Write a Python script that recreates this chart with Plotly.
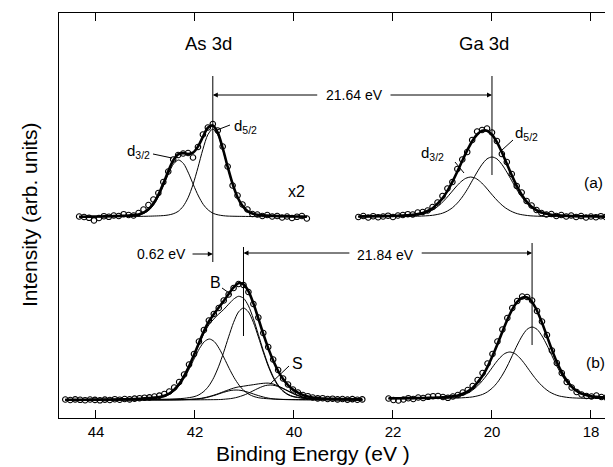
import plotly.graph_objects as go

# ---------------- Panel (a): As 3d (x2) ----------------
as_a_E = [44.34, 44.24, 44.14, 44.04, 43.94, 43.84, 43.74, 43.64, 43.54, 43.44, 43.34, 43.24,
          43.14, 43.04, 42.94, 42.84, 42.74, 42.64, 42.54, 42.44, 42.34, 42.24, 42.14, 42.04,
          41.94, 41.84, 41.74, 41.64, 41.54, 41.44, 41.34, 41.24, 41.14, 41.04, 40.94, 40.84,
          40.74, 40.64, 40.54, 40.44, 40.34, 40.24, 40.14, 40.04, 39.94, 39.84, 39.74]
as_a_data = [201.5, 201.0, 200.2, 197.5, 200.0, 201.8, 201.2, 202.5, 202.0, 203.8, 203.0, 202.5,
             205.0, 208.5, 213.0, 218.5, 225.0, 236.0, 246.5, 258.5, 263.0, 264.5, 265.0, 260.5,
             271.0, 283.5, 290.5, 294.0, 287.5, 271.5, 251.5, 232.5, 222.5, 213.5, 208.5, 204.0,
             203.5, 202.0, 203.0, 201.5, 202.0, 200.5, 201.5, 200.0, 201.2, 202.0, 199.5]
as_a_fit = [201.3, 201.3, 201.4, 201.4, 201.5, 201.6, 201.7, 201.9, 202.0, 202.2, 202.4, 202.9,
            203.6, 205.3, 208.7, 214.4, 223.1, 234.4, 246.8, 257.5, 263.6, 264.9, 264.0, 265.4,
            271.4, 281.1, 290.2, 292.6, 285.4, 270.0, 251.3, 234.1, 220.8, 212.1, 207.0, 204.5,
            203.3, 202.7, 202.4, 202.2, 202.0, 201.8, 201.7, 201.6, 201.5, 201.4, 201.3]
as_a_d52_E = [44.34, 43.44, 42.94, 42.64, 42.54, 42.44, 42.34, 42.24, 42.14, 42.04, 41.94, 41.84,
              41.74, 41.64, 41.54, 41.44, 41.34, 41.24, 41.14, 41.04, 40.94, 40.84, 40.74, 40.64,
              40.34, 39.84, 39.74]
as_a_d52 = [201.2, 201.4, 201.8, 202.4, 203.0, 204.2, 206.6, 211.6, 220.2, 233.4, 250.4, 268.7,
            283.3, 289.0, 283.3, 268.7, 250.4, 233.4, 220.2, 211.6, 206.6, 204.2, 203.0, 202.4,
            201.8, 201.4, 201.3]
as_a_d32_E = [44.34, 44.13, 43.63, 43.33, 43.23, 43.13, 43.03, 42.93, 42.83, 42.73, 42.63, 42.53,
              42.43, 42.33, 42.23, 42.13, 42.03, 41.93, 41.83, 41.73, 41.63, 41.53, 41.43, 41.33,
              41.03, 40.53, 39.74]
as_a_d32 = [201.3, 201.3, 201.6, 201.9, 202.3, 203.1, 204.6, 207.9, 213.4, 222.0, 233.0, 244.8,
            254.3, 258.0, 254.3, 244.8, 233.0, 222.0, 213.4, 207.9, 204.6, 203.1, 202.3, 201.9,
            201.6, 201.3, 201.2]

# ---------------- Panel (a): Ga 3d ----------------
ga_a_E = [22.7, 22.6, 22.5, 22.4, 22.3, 22.2, 22.1, 22.0, 21.9, 21.8, 21.7, 21.6, 21.5, 21.4,
          21.3, 21.2, 21.1, 21.0, 20.9, 20.8, 20.7, 20.6, 20.5, 20.4, 20.3, 20.2, 20.1, 20.0,
          19.9, 19.8, 19.7, 19.6, 19.5, 19.4, 19.3, 19.2, 19.1, 19.0, 18.9, 18.8, 18.7, 18.6,
          18.5, 18.4, 18.3, 18.2, 18.1, 18.0, 17.9, 17.8, 17.7]
ga_a_data = [201.0, 202.0, 200.5, 201.8, 200.8, 201.5, 202.3, 201.0, 202.5, 203.0, 203.8, 203.5,
             205.5, 206.0, 207.5, 211.0, 215.5, 222.0, 229.5, 236.0, 249.0, 258.5, 266.0, 278.0,
             286.5, 288.0, 289.5, 285.5, 277.0, 264.0, 256.0, 244.0, 232.0, 225.5, 217.0, 212.5,
             208.0, 205.0, 203.5, 204.0, 202.0, 203.0, 201.5, 202.5, 201.0, 202.0, 200.5, 201.5,
             200.8, 201.8, 201.0]
ga_a_fit = [201.5, 201.6, 201.6, 201.7, 201.8, 201.9, 202.0, 202.1, 202.3, 202.5, 202.8, 203.1,
            203.9, 205.1, 207.0, 209.8, 214.3, 219.6, 227.1, 236.1, 246.4, 257.2, 267.6, 276.8,
            283.5, 287.2, 287.3, 283.4, 275.9, 265.7, 254.2, 242.7, 232.1, 223.4, 216.5, 211.3,
            207.9, 205.5, 204.4, 203.2, 202.8, 202.5, 202.2, 202.0, 201.9, 201.8, 201.8, 201.7,
            201.6, 201.5, 201.4]
ga_a_d52_E = [22.7, 22.0, 21.5, 21.2, 21.0, 20.9, 20.8, 20.7, 20.6, 20.5, 20.4, 20.3, 20.2, 20.1,
              20.0, 19.9, 19.8, 19.7, 19.6, 19.5, 19.4, 19.3, 19.2, 19.1, 19.0, 18.8, 18.5, 18.0, 17.7]
ga_a_d52 = [201.3, 201.5, 201.8, 202.7, 204.8, 207.0, 210.2, 214.9, 221.0, 228.5, 237.2, 245.9,
            253.6, 259.1, 261.0, 259.1, 253.6, 245.9, 237.2, 228.5, 221.0, 214.9, 210.2, 207.0,
            204.8, 202.7, 201.8, 201.5, 201.3]
ga_a_d32_E = [22.7, 22.43, 21.93, 21.63, 21.43, 21.33, 21.23, 21.13, 21.03, 20.93, 20.83, 20.73,
              20.63, 20.53, 20.43, 20.33, 20.23, 20.13, 20.03, 19.93, 19.83, 19.73, 19.63, 19.53,
              19.43, 19.23, 18.93, 18.43, 17.7]
ga_a_d32 = [201.2, 201.3, 201.6, 202.2, 203.6, 205.0, 207.2, 210.2, 214.3, 219.4, 225.1, 231.0,
            236.1, 239.7, 241.0, 239.7, 236.1, 231.0, 225.1, 219.4, 214.3, 210.2, 207.2, 205.0,
            203.6, 202.2, 201.6, 201.3, 201.2]

# ---------------- Panel (b): As 3d ----------------
as_b_E = [44.62, 44.52, 44.42, 44.32, 44.22, 44.12, 44.02, 43.92, 43.82, 43.72, 43.62, 43.52,
          43.42, 43.32, 43.22, 43.12, 43.02, 42.92, 42.82, 42.72, 42.62, 42.52, 42.42, 42.32,
          42.22, 42.12, 42.02, 41.92, 41.82, 41.72, 41.62, 41.52, 41.42, 41.32, 41.22, 41.12,
          41.02, 40.92, 40.82, 40.72, 40.62, 40.52, 40.42, 40.32, 40.22, 40.12, 40.02, 39.92,
          39.82, 39.72, 39.62, 39.52, 39.42, 39.32, 39.22, 39.12, 39.02, 38.92, 38.82, 38.72, 38.62]
as_b_data = [18.5, 18.0, 18.6, 18.2, 17.8, 18.5, 18.1, 17.7, 18.4, 18.0, 18.8, 18.3,
             19.0, 18.6, 19.4, 19.8, 20.3, 20.6, 21.5, 22.4, 24.0, 26.5, 30.5, 36.0,
             43.5, 53.5, 64.0, 76.5, 88.0, 97.5, 104.0, 110.0, 117.5, 123.5, 130.0, 134.0,
             133.0, 126.0, 114.0, 100.5, 85.0, 71.0, 58.5, 48.0, 39.5, 33.5, 28.5, 25.5,
             23.0, 21.8, 20.5, 19.6, 19.8, 19.0, 19.3, 18.6, 19.0, 18.4, 18.9, 18.3, 18.6]
as_b_fit = [18.3, 18.3, 18.3, 18.3, 18.3, 18.35, 18.4, 18.4, 18.45, 18.5, 18.55, 18.6,
            18.7, 18.8, 19.0, 19.3, 19.7, 20.0, 20.4, 21.0, 22.3, 24.5, 28.4, 34.0,
            41.8, 51.6, 63.1, 75.1, 86.6, 96.5, 103.8, 110.5, 116.9, 124.0, 130.6, 134.8,
            133.6, 126.8, 114.6, 99.6, 84.1, 69.9, 57.4, 47.0, 38.9, 32.9, 28.4, 25.3,
            23.0, 21.5, 20.5, 20.0, 19.5, 19.3, 19.1, 19.0, 18.9, 18.8, 18.7, 18.6, 18.6]
as_b_bsum_E = [44.62, 43.02, 42.72, 42.52, 42.42, 42.32, 42.22, 42.12, 42.02, 41.92, 41.82, 41.72,
               41.62, 41.52, 41.42, 41.32, 41.22, 41.12, 41.02, 40.92, 40.82, 40.72, 40.62, 40.52,
               40.42, 40.32, 40.22, 40.12, 40.02, 39.92, 39.82, 39.72, 39.62, 39.42, 39.02, 38.62]
as_b_bsum = [18.3, 19.6, 20.8, 24.3, 28.1, 33.7, 41.4, 51.0, 62.2, 73.7, 84.4, 93.1,
             99.0, 104.0, 108.5, 113.8, 118.8, 121.7, 119.8, 112.2, 99.3, 83.5, 67.4, 53.0,
             41.4, 33.0, 27.2, 23.7, 21.7, 20.8, 20.0, 19.7, 19.3, 19.0, 18.7, 18.5]
as_b_b52_E = [44.62, 43.02, 42.52, 42.22, 42.02, 41.92, 41.82, 41.72, 41.62, 41.52, 41.42, 41.32,
              41.22, 41.12, 41.02, 40.92, 40.82, 40.72, 40.62, 40.52, 40.42, 40.32, 40.22, 40.12,
              40.02, 39.82, 39.52, 39.02, 38.62]
as_b_b52 = [18.3, 18.6, 18.9, 19.7, 21.3, 23.2, 26.6, 32.1, 40.4, 51.8, 65.8, 81.2,
            95.6, 106.1, 110.0, 106.1, 95.6, 81.2, 65.8, 51.8, 40.4, 32.1, 26.6, 23.2,
            21.3, 19.7, 18.9, 18.6, 18.4]
as_b_b32_E = [44.62, 43.71, 43.21, 42.91, 42.71, 42.61, 42.51, 42.41, 42.31, 42.21, 42.11, 42.01,
              41.91, 41.81, 41.71, 41.61, 41.51, 41.41, 41.31, 41.21, 41.11, 41.01, 40.91, 40.81,
              40.71, 40.51, 40.21, 39.71, 38.62]
as_b_b32 = [18.2, 18.4, 18.6, 19.2, 20.2, 21.5, 23.7, 27.3, 32.9, 40.4, 49.7, 59.9,
            69.4, 76.4, 79.0, 76.4, 69.4, 59.9, 49.7, 40.4, 32.9, 27.3, 23.7, 21.5,
            20.2, 19.2, 18.6, 18.4, 18.2]
as_b_s32_E = [44.62, 42.67, 42.37, 42.17, 42.07, 41.97, 41.87, 41.77, 41.67, 41.57, 41.47, 41.37,
              41.27, 41.17, 41.07, 40.97, 40.87, 40.77, 40.67, 40.57, 40.47, 40.37, 40.27, 40.17,
              39.97, 39.67, 38.62]
as_b_s32 = [18.0, 18.1, 18.2, 18.4, 18.6, 18.9, 19.5, 20.4, 21.7, 23.2, 24.9, 26.4,
            27.6, 28.0, 27.6, 26.4, 24.9, 23.2, 21.7, 20.4, 19.5, 18.9, 18.6, 18.4,
            18.2, 18.1, 18.0]
as_b_s52_E = [44.62, 41.98, 41.68, 41.48, 41.38, 41.28, 41.18, 41.08, 40.98, 40.88, 40.78, 40.68,
              40.58, 40.48, 40.38, 40.28, 40.18, 40.08, 39.98, 39.88, 39.78, 39.68, 39.58, 39.48,
              39.28, 38.98, 38.62]
as_b_s52 = [18.0, 18.2, 18.3, 18.5, 18.9, 19.4, 20.3, 21.7, 23.5, 25.8, 28.3, 30.6,
            32.4, 33.0, 32.4, 30.6, 28.3, 25.8, 23.5, 21.7, 20.3, 19.4, 18.9, 18.5,
            18.3, 18.2, 18.0]
as_b_ssum_E = [44.62, 42.52, 42.32, 42.12, 42.02, 41.92, 41.82, 41.72, 41.62, 41.52, 41.42, 41.32,
               41.22, 41.12, 41.02, 40.92, 40.82, 40.72, 40.62, 40.52, 40.42, 40.32, 40.22, 40.12,
               40.02, 39.92, 39.82, 39.72, 39.62, 39.42, 39.02, 38.62]
as_b_ssum = [18.0, 18.2, 18.3, 18.6, 18.9, 19.4, 20.2, 21.4, 22.8, 24.5, 26.4, 28.2,
             29.9, 31.1, 31.8, 32.6, 33.3, 34.1, 34.7, 34.9, 34.0, 32.1, 29.7, 27.2,
             24.7, 22.6, 21.0, 19.9, 19.2, 18.6, 18.2, 18.0]

# ---------------- Panel (b): Ga 3d ----------------
ga_b_E = [22.09, 21.99, 21.89, 21.79, 21.69, 21.59, 21.49, 21.39, 21.29, 21.19, 21.09, 20.99,
          20.89, 20.79, 20.69, 20.59, 20.49, 20.39, 20.29, 20.19, 20.09, 19.99, 19.89, 19.79,
          19.69, 19.59, 19.49, 19.39, 19.29, 19.19, 19.09, 18.99, 18.89, 18.79, 18.69, 18.59,
          18.49, 18.39, 18.29, 18.19, 18.09, 17.99, 17.89, 17.79, 17.69, 17.59]
ga_b_data = [19.5, 18.0, 17.5, 18.5, 19.8, 19.0, 20.5, 20.0, 21.2, 21.8, 22.0, 21.0,
             20.2, 21.5, 23.0, 25.5, 28.0, 32.0, 38.0, 45.0, 54.5, 64.0, 76.5, 88.5,
             100.0, 110.0, 117.0, 121.5, 121.0, 117.5, 107.0, 96.5, 83.0, 67.5, 55.0, 45.0,
             36.0, 30.5, 26.0, 23.5, 22.0, 21.5, 22.5, 21.0, 20.5, 19.5]
ga_b_fit = [19.7, 19.7, 19.8, 19.8, 19.9, 19.9, 20.0, 20.05, 20.1, 20.2, 20.45, 20.7,
            21.1, 21.7, 22.6, 24.2, 26.7, 30.1, 35.6, 42.2, 51.2, 61.9, 73.7, 86.2,
            98.2, 108.6, 116.1, 120.2, 120.5, 116.0, 107.3, 95.4, 81.9, 68.4, 55.9, 45.6,
            37.4, 31.4, 27.2, 24.4, 22.9, 21.6, 21.1, 20.7, 20.3, 20.0]
ga_b_d52_E = [22.09, 21.19, 20.69, 20.39, 20.19, 20.09, 19.99, 19.89, 19.79, 19.69, 19.59, 19.49,
              19.39, 19.29, 19.19, 19.09, 18.99, 18.89, 18.79, 18.69, 18.59, 18.49, 18.39, 18.29,
              18.19, 17.99, 17.69, 17.56]
ga_b_d52 = [19.3, 19.6, 20.0, 21.1, 23.6, 26.2, 30.1, 35.6, 43.0, 52.0, 62.4, 72.9,
            82.1, 88.7, 91.0, 88.7, 82.1, 72.9, 62.4, 52.0, 43.0, 35.6, 30.1, 26.2,
            23.6, 21.1, 20.0, 19.8]
ga_b_d32_E = [22.09, 21.64, 21.14, 20.84, 20.64, 20.54, 20.44, 20.34, 20.24, 20.14, 20.04, 19.94,
              19.84, 19.74, 19.64, 19.54, 19.44, 19.34, 19.24, 19.14, 19.04, 18.94, 18.84, 18.74,
              18.64, 18.44, 18.14, 17.56]
ga_b_d32 = [19.3, 19.4, 19.7, 20.4, 22.0, 23.7, 26.2, 29.9, 34.7, 40.6, 47.3, 54.2,
            60.2, 64.5, 66.0, 64.5, 60.2, 54.2, 47.3, 40.6, 34.7, 29.9, 26.2, 23.7,
            22.0, 20.4, 19.7, 19.4]

# peak-position markers and separations
as_a_peak, ga_a_peak = 41.64, 20.00
as_b_peak, ga_b_peak = 41.02, 19.19
as_ticks = [44, 42, 40]
ga_ticks = [22, 20, 18]

FONT = "Liberation Sans, Arial, Helvetica, sans-serif"
BLACK = "black"

fig = go.Figure()


def comp(x, y, xa):
    fig.add_trace(go.Scatter(x=x, y=y, mode="lines", xaxis=xa, yaxis="y",
                             line=dict(color=BLACK, width=1, shape="spline", smoothing=0.8),
                             hoverinfo="skip", showlegend=False))


def fit(x, y, xa):
    fig.add_trace(go.Scatter(x=x, y=y, mode="lines", xaxis=xa, yaxis="y",
                             line=dict(color=BLACK, width=2.6, shape="spline", smoothing=0.8),
                             hoverinfo="skip", showlegend=False))


def pts(x, y, xa):
    fig.add_trace(go.Scatter(x=x, y=y, mode="markers", xaxis=xa, yaxis="y",
                             marker=dict(symbol="circle-open", size=5.5, color=BLACK,
                                         line=dict(width=1.1, color=BLACK)),
                             hoverinfo="skip", showlegend=False))


# As (a)
comp(as_a_d52_E, as_a_d52, "x")
comp(as_a_d32_E, as_a_d32, "x")
fit(as_a_E, as_a_fit, "x")
pts(as_a_E, as_a_data, "x")
# Ga (a)
comp(ga_a_d52_E, ga_a_d52, "x2")
comp(ga_a_d32_E, ga_a_d32, "x2")
fit(ga_a_E, ga_a_fit, "x2")
pts(ga_a_E, ga_a_data, "x2")
# As (b)
comp(as_b_b52_E, as_b_b52, "x")
comp(as_b_b32_E, as_b_b32, "x")
comp(as_b_s32_E, as_b_s32, "x")
comp(as_b_s52_E, as_b_s52, "x")
comp(as_b_ssum_E, as_b_ssum, "x")
comp(as_b_bsum_E, as_b_bsum, "x")
fit(as_b_E, as_b_fit, "x")
pts(as_b_E, as_b_data, "x")
# Ga (b)
comp(ga_b_d52_E, ga_b_d52, "x2")
comp(ga_b_d32_E, ga_b_d32, "x2")
fit(ga_b_E, ga_b_fit, "x2")
pts(ga_b_E, ga_b_data, "x2")

# ---- geometry (page pixels; the page body has an 8 px margin) ----
OFF = 8
L, T, W, H = 59, 13, 554, 405
FIG_W, FIG_H = 613 - OFF, 467 - OFF


def px(x):
    return (x - L) / W


def py(y):
    return (T + H - y) / H


shapes = []
# vertical peak-position lines (data coords)
for xa, xv, y0, y1 in [("x", as_a_peak, 156, 342), ("x2", ga_a_peak, 243, 342),
                       ("x", as_b_peak, 82, 171), ("x2", ga_b_peak, 73, 175)]:
    shapes.append(dict(type="line", xref=xa, yref="y", x0=xv, x1=xv, y0=y0, y1=y1,
                       line=dict(color=BLACK, width=1)))
# label leader lines (pixel positions)
for (x0, y0, x1, y1) in [(153, 154, 172, 158), (230, 125, 217, 130), (455, 162, 464, 173),
                         (513, 140, 502, 150), (222, 288, 232, 295), (289, 366, 270, 384)]:
    shapes.append(dict(type="line", xref="paper", yref="paper", x0=px(x0), y0=py(y0),
                       x1=px(x1), y1=py(y1), line=dict(color=BLACK, width=1)))

ann = []


def text(t, x, y, size, xanchor="center"):
    ann.append(dict(text=t, x=px(x), y=py(y), xref="paper", yref="paper", showarrow=False,
                    xanchor=xanchor, yanchor="middle", font=dict(family=FONT, size=size, color=BLACK)))


def arrow(xref, x, y, ax):
    ann.append(dict(text="", x=x, y=y, xref=xref, yref="y", ax=ax, ay=y, axref=xref, ayref="y",
                    showarrow=True, arrowhead=2, arrowsize=1, arrowwidth=1, arrowcolor=BLACK,
                    standoff=0, startstandoff=0))


text("As 3d", 208, 44, 18.5)
text("Ga 3d", 484, 44, 18.5)
text("21.64 eV", 354, 95, 14)
arrow("x", as_a_peak, 323, 39.50)
arrow("x2", ga_a_peak, 323, 22.08)
text("0.62 eV", 188, 254, 14, "right")
arrow("x", as_a_peak, 164, 42.08)
text("21.84 eV", 385, 255, 14)
arrow("x", as_b_peak, 165, 38.85)
arrow("x2", ga_b_peak, 165, 21.45)
text("x2", 296, 191, 16)
text("(a)", 593, 182, 15.5)
text("(b)", 595, 362, 15.5)
text("d<sub>3/2</sub>", 152, 151, 15, "right")
text("d<sub>5/2</sub>", 232, 126, 15, "left")
text("d<sub>3/2</sub>", 446, 153, 15, "right")
text("d<sub>5/2</sub>", 513, 134, 15, "left")
text("B", 215, 282, 16)
text("S", 297, 363, 16)
text("Binding Energy (eV )", 313, 454, 21)
ann.append(dict(text="Intensity (arb. units)", x=px(29), y=py(215), xref="paper", yref="paper",
                showarrow=False, textangle=-90, xanchor="center", yanchor="middle",
                font=dict(family=FONT, size=21, color=BLACK)))

axis_common = dict(showgrid=False, zeroline=False, ticks="inside", ticklen=8, tickwidth=1.3,
                   tickcolor=BLACK, showline=True, linecolor=BLACK, linewidth=1.3, mirror="ticks",
                   tickfont=dict(family=FONT, size=15, color=BLACK))

fig.update_layout(
    width=FIG_W, height=FIG_H,
    margin=dict(l=L - OFF, r=0, t=T - OFF, b=FIG_H - (T - OFF) - H, pad=0),
    paper_bgcolor="white", plot_bgcolor="white",
    showlegend=False,
    xaxis=dict(range=[44.747, 33.555], domain=[0, 1], anchor="y", tickmode="array",
               tickvals=as_ticks, ticktext=[str(v) for v in as_ticks], **axis_common),
    xaxis2=dict(range=[28.747, 17.555], domain=[0, 1], anchor="y", overlaying="x", side="bottom",
                tickmode="array", tickvals=ga_ticks, ticktext=[str(v) for v in ga_ticks],
                **axis_common),
    yaxis=dict(range=[0, 405], showgrid=False, zeroline=False, showticklabels=False, ticks="",
               showline=True, linecolor=BLACK, linewidth=1.3, mirror=False),
    shapes=shapes,
    annotations=ann,
)

fig.write_html("out.html")
